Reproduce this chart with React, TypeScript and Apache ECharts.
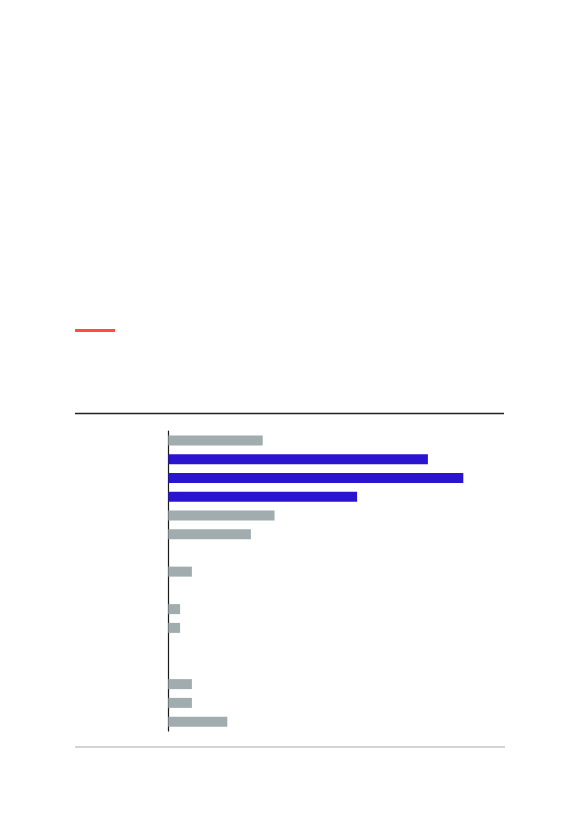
import { FC, useEffect, useRef } from "react";
import * as echarts from "echarts";

// 16 rows, top to bottom; empty rows have no bar
const categories = [
  "r1", "r2", "r3", "r4", "r5", "r6", "r7", "r8",
  "r9", "r10", "r11", "r12", "r13", "r14", "r15", "r16",
];
const values: (number | null)[] = [8, 22, 25, 16, 9, 7, null, 2, null, 1, 1, null, null, 2, 2, 5];
const highlighted = [1, 2, 3];

const GRAY = "#a0acae";
const BLUE = "#2b14d0";

const App: FC = () => {
  const chartRef = useRef<HTMLDivElement>(null);

  useEffect(() => {
    if (!chartRef.current) return;
    const chart = echarts.init(chartRef.current, null, { renderer: "svg" });

    const option = {
      animation: false,
      grid: { left: 168.3, top: 431, width: 354, height: 300 },
      xAxis: {
        type: "value",
        min: 0,
        max: 30,
        show: false,
      },
      yAxis: {
        type: "category",
        data: categories,
        inverse: true,
        axisLine: { show: true, lineStyle: { color: "#1a1a1a", width: 1.2 } },
        axisTick: { show: false },
        axisLabel: { show: false },
      },
      series: [
        {
          type: "bar",
          barWidth: 10,
          data: values.map((v, i) => ({
            value: v,
            itemStyle: { color: highlighted.includes(i) ? BLUE : GRAY },
          })),
        },
      ],
      graphic: [
        { type: "rect", shape: { x: 75, y: 329, width: 40, height: 3 }, style: { fill: "#ff4f38" } },
        { type: "line", shape: { x1: 75, y1: 413.5, x2: 504, y2: 413.5 }, style: { stroke: "#222", lineWidth: 1.3 } },
        { type: "line", shape: { x1: 75, y1: 747, x2: 505, y2: 747 }, style: { stroke: "#aaaaaa", lineWidth: 1.2 } },
      ],
    };

    chart.setOption(option);
    return () => chart.dispose();
  }, []);

  return (
    <div
      ref={chartRef}
      style={{ position: "absolute", left: 0, top: 0, width: 583, height: 827 }}
    />
  );
};

export default App;
